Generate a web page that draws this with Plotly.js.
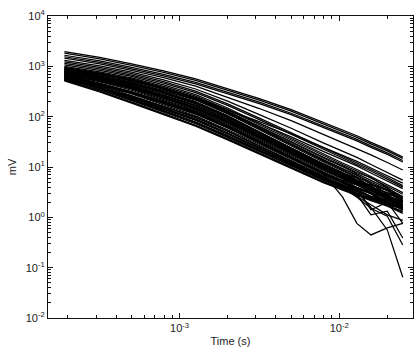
<!DOCTYPE html>
<html>
<head>
<meta charset="utf-8">
<script src="https://cdn.plot.ly/plotly-3.0.1.min.js"></script>
<style>html,body{margin:0;padding:0;background:#fff;}#chart{width:416px;height:349px;}</style>
</head>
<body>
<div id="chart"></div>
<script>
// Gate times (s)
const times = [1.9e-4, 3.16e-4, 5.01e-4, 7.94e-4, 1.26e-3, 2.0e-3, 3.16e-3, 5.0e-3, 7.94e-3, 1.05e-2, 1.29e-2, 1.58e-2, 2.0e-2, 2.5e-2];

// Tick positions and labels
const xTickVals = [1e-3, 1e-2];
const xTickText = ['10<sup>-3</sup>', '10<sup>-2</sup>'];
const yTickVals = [1e-2, 1e-1, 1, 10, 100, 1000, 10000];
const yTickText = ['10<sup>-2</sup>', '10<sup>-1</sup>', '10<sup>0</sup>', '10<sup>1</sup>', '10<sup>2</sup>', '10<sup>3</sup>', '10<sup>4</sup>'];

// Upper, well separated soundings (mV)
const upperCurves = [
  [1950, 1510, 1120, 813, 562, 363, 229, 138, 77.6, 55.0, 41.7, 30.9, 22.4, 15.8],
  [1820, 1410, 1050, 759, 525, 339, 214, 129, 72.4, 51.3, 38.9, 28.8, 20.9, 14.8],
  [1660, 1290, 955, 692, 479, 309, 195, 117, 66.1, 46.8, 35.5, 26.3, 19.1, 13.5],
  [1550, 1200, 891, 646, 447, 288, 182, 110, 61.7, 43.7, 33.1, 24.5, 17.8, 12.6],
  [1450, 1120, 832, 596, 403, 245, 145, 83.2, 44.7, 30.9, 23.4, 17.4, 12.3, 8.71],
  [1320, 1020, 767, 537, 355, 204, 110, 58.9, 30.2, 20.4, 15.5, 11.2, 7.76, 5.50],
  [1230, 955, 719, 497, 322, 180, 93.5, 48.0, 24.1, 16.2, 12.0, 8.91, 6.17, 4.27],
  [1150, 891, 671, 463, 301, 168, 87.3, 44.8, 22.5, 15.1, 11.2, 8.32, 5.75, 3.98],
  [1070, 832, 631, 430, 275, 149, 74.1, 36.7, 18.0, 12.0, 8.91, 6.46, 4.47, 3.09],
  [1000, 776, 589, 401, 256, 139, 69.2, 34.3, 16.8, 11.2, 8.32, 6.03, 4.17, 2.88],
  [891, 692, 519, 363, 240, 138, 74.1, 39.8, 20.4, 13.8, 10.5, 7.59, 5.25, 3.72],
  [794, 617, 457, 327, 221, 135, 79.4, 45.7, 24.5, 17.0, 12.9, 9.55, 6.76, 4.79]
];

// Dense main band of soundings (mV)
const denseCurves = [
  [955, 741, 562, 380, 240, 126, 60.3, 28.8, 13.8, 9.12, 7.08, 4.57, 3.55, 2.19],
  [933, 724, 550, 372, 240, 129, 64.6, 31.6, 15.8, 10.5, 7.76, 6.17, 3.89, 2.40],
  [912, 708, 537, 363, 229, 120, 57.5, 27.5, 13.2, 8.71, 6.46, 4.68, 2.88, 2.34],
  [902, 700, 531, 359, 232, 124, 62.4, 30.5, 15.1, 10.1, 7.50, 5.43, 3.76, 2.60],
  [891, 646, 468, 302, 188, 100, 49.0, 23.7, 11.6, 7.76, 5.50, 4.37, 3.39, 2.16],
  [871, 676, 513, 347, 219, 115, 55.0, 26.3, 12.6, 8.32, 6.17, 3.98, 3.02, 2.40],
  [861, 589, 398, 251, 153, 81.3, 40.7, 20.2, 10.1, 6.92, 5.25, 3.98, 3.09, 2.11],
  [851, 617, 447, 288, 180, 95.5, 46.8, 22.6, 11.1, 7.41, 5.62, 4.17, 2.51, 2.00],
  [832, 646, 490, 331, 214, 115, 57.5, 28.2, 14.1, 9.33, 6.92, 5.01, 3.47, 2.51],
  [813, 556, 376, 237, 145, 76.7, 38.5, 19.1, 9.55, 6.53, 4.95, 4.12, 2.60, 2.00],
  [804, 582, 422, 272, 170, 90.2, 44.2, 21.4, 10.5, 7.00, 5.31, 3.94, 2.72, 1.95],
  [794, 617, 468, 316, 200, 105, 50.1, 24.0, 11.5, 7.59, 6.03, 4.07, 2.75, 1.78],
  [776, 562, 407, 263, 164, 87.1, 42.7, 20.7, 10.1, 6.76, 5.13, 3.47, 2.63, 2.11],
  [767, 596, 452, 305, 193, 101, 48.4, 23.2, 11.1, 7.33, 5.43, 3.67, 2.66, 2.07],
  [759, 519, 351, 221, 135, 71.6, 35.9, 17.8, 8.91, 6.10, 4.62, 3.51, 2.85, 1.70],
  [741, 575, 437, 295, 186, 97.7, 46.8, 22.4, 10.7, 7.08, 4.79, 4.07, 2.57, 1.78],
  [724, 495, 335, 211, 129, 68.4, 34.3, 17.0, 8.51, 5.82, 4.42, 3.35, 2.43, 1.95],
  [708, 513, 372, 240, 150, 79.4, 38.9, 18.8, 9.23, 6.17, 4.68, 3.89, 2.24, 1.72],
  [700, 507, 367, 237, 148, 78.5, 38.5, 18.6, 9.12, 6.10, 5.07, 3.43, 2.37, 1.70],
  [692, 447, 282, 174, 104, 55.0, 28.2, 14.3, 7.33, 5.13, 3.89, 3.02, 2.51, 1.53],
  [676, 462, 313, 197, 120, 63.8, 32.0, 15.8, 7.94, 5.43, 4.42, 3.13, 2.26, 1.91],
  [661, 513, 389, 263, 166, 87.1, 41.7, 20.0, 9.55, 6.31, 4.68, 3.39, 2.45, 1.74],
  [646, 417, 263, 162, 96.6, 51.3, 26.3, 13.3, 6.84, 4.79, 3.63, 2.57, 2.14, 1.80],
  [638, 437, 295, 186, 114, 60.3, 30.2, 15.0, 7.50, 5.13, 3.89, 2.95, 2.14, 1.76],
  [631, 432, 292, 184, 112, 59.6, 29.9, 14.8, 7.41, 5.07, 3.85, 2.92, 1.93, 1.66],
  [617, 372, 224, 132, 77.6, 41.7, 21.9, 11.2, 5.89, 4.17, 3.55, 2.57, 2.24, 1.55],
  [610, 367, 221, 130, 76.7, 41.2, 21.6, 11.1, 5.82, 4.12, 3.20, 2.54, 1.80, 1.53],
  [603, 389, 245, 151, 90.2, 47.9, 24.5, 12.4, 6.38, 4.47, 3.39, 2.63, 2.00, 1.72],
  [589, 427, 309, 200, 124, 66.1, 32.4, 15.7, 7.67, 5.13, 3.89, 3.09, 2.00, 1.60],
  [582, 376, 237, 146, 87.1, 46.2, 23.7, 12.0, 6.17, 4.32, 3.27, 2.54, 1.93, 1.62],
  [575, 347, 209, 123, 72.4, 38.9, 20.4, 10.5, 5.50, 3.89, 3.02, 2.40, 1.74, 1.51],
  [562, 363, 229, 141, 84.1, 44.7, 22.9, 11.6, 5.96, 4.17, 2.95, 2.45, 2.04, 1.40],
  [556, 403, 292, 188, 117, 62.4, 30.5, 14.8, 7.24, 4.84, 3.67, 2.99, 1.88, 1.55],
  [550, 376, 254, 160, 97.7, 51.9, 26.0, 12.9, 6.46, 4.42, 3.35, 2.54, 1.84, 1.48],
  [537, 324, 195, 115, 67.6, 36.3, 19.1, 9.77, 5.13, 3.63, 2.82, 2.40, 1.74, 1.26],
  [531, 320, 193, 114, 66.8, 35.9, 18.8, 9.66, 5.07, 3.59, 2.79, 2.21, 1.72, 1.33],
  [525, 339, 214, 132, 78.5, 41.7, 21.4, 10.8, 5.56, 3.89, 2.95, 2.29, 1.91, 1.43],
  [513, 309, 186, 110, 64.6, 34.7, 18.2, 9.33, 4.90, 3.47, 2.69, 2.14, 1.66, 1.20]
];

// Noisy soundings that drop at late times (mV)
const noisyCurves = [
  [661, 452, 305, 193, 117, 62.4, 31.3, 15.5, 7.76, 5.01, 3.31, 1.58, 0.562, 0.0646],
  [575, 417, 302, 195, 122, 64.6, 31.6, 15.3, 7.50, 2.51, 0.759, 0.447, 0.617, 0.759],
  [550, 376, 254, 160, 97.7, 51.9, 26.0, 12.9, 6.46, 3.98, 2.51, 1.51, 1.05, 0.282],
  [724, 525, 380, 245, 153, 81.3, 39.8, 19.3, 9.44, 6.03, 2.82, 1.12, 1.32, 0.389],
  [603, 363, 219, 129, 75.9, 40.7, 21.4, 11.0, 5.75, 3.80, 2.63, 1.78, 1.12, 0.871],
  [794, 543, 367, 232, 141, 75.0, 37.6, 18.6, 9.33, 6.17, 3.80, 1.41, 2.00, 0.759]
];

const allCurves = upperCurves.concat(denseCurves, noisyCurves);
const traces = allCurves.map(v => ({
  x: times, y: v, type: 'scatter', mode: 'lines',
  line: {color: '#000', width: 1.25}, hoverinfo: 'skip', showlegend: false
}));

const font = {family: 'Liberation Sans, Arial, Helvetica, sans-serif', size: 11, color: '#222'};
const axisCommon = {
  type: 'log', showline: true, linecolor: '#111', linewidth: 1, mirror: 'allticks',
  ticks: 'inside', ticklen: 5, tickwidth: 1, tickcolor: '#111',
  showgrid: false, zeroline: false, tickmode: 'array',
  tickfont: font,
  minor: {ticks: 'inside', ticklen: 3, tickwidth: 1, tickcolor: '#111', dtick: 'D1', showgrid: false}
};

const layout = {
  width: 416, height: 349,
  margin: {l: 48, r: 3, t: 16, b: 31},
  paper_bgcolor: '#fff', plot_bgcolor: '#fff',
  showlegend: false,
  xaxis: Object.assign({}, axisCommon, {
    range: [-3.824, -1.538],
    tickvals: xTickVals, ticktext: xTickText,
    title: {text: 'Time (s)', font: font, standoff: 4}
  }),
  yaxis: Object.assign({}, axisCommon, {
    range: [-2, 4],
    tickvals: yTickVals, ticktext: yTickText,
    title: {text: 'mV', font: font, standoff: 6}
  })
};

Plotly.newPlot('chart', traces, layout, {staticPlot: true, displayModeBar: false});
</script>
</body>
</html>
